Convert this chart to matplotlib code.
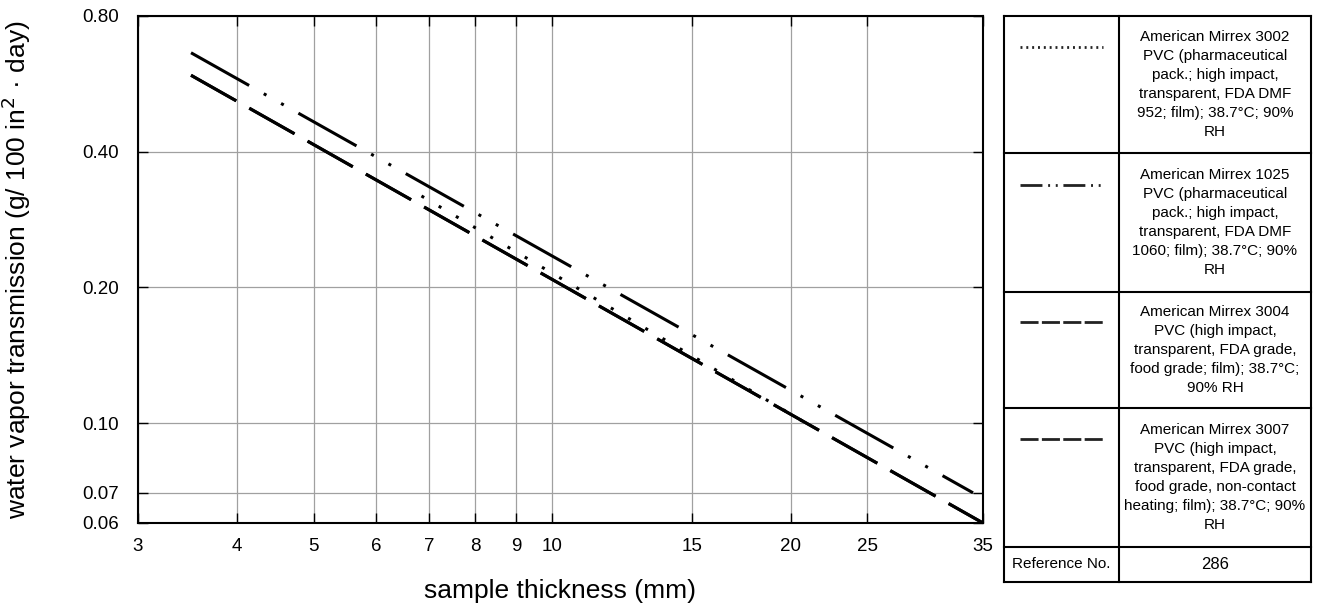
import matplotlib
matplotlib.use("Agg")
import matplotlib.pyplot as plt
from matplotlib.ticker import FixedLocator, FixedFormatter, NullLocator

plt.rcParams['font.family'] = ['Liberation Sans', 'DejaVu Sans']
plt.rcParams['lines.scale_dashes'] = False

# series (thickness in mm, WVT in g/100 in^2 day)
x_3002 = [6.84, 20.7]
y_3002 = [0.319, 0.101]
x_1025 = [3.5, 34.0]
y_1025 = [0.663, 0.070]
x_3004 = [3.5, 35.0]
y_3004 = [0.591, 0.060]
x_3007 = [3.5, 35.0]
y_3007 = [0.591, 0.060]

x_ticks = [3, 4, 5, 6, 7, 8, 9, 10, 15, 20, 25, 35]
x_ticklabels = ['3', '4', '5', '6', '7', '8', '9', '10', '15', '20', '25', '35']
y_ticks = [0.06, 0.07, 0.10, 0.20, 0.40, 0.80]
y_ticklabels = ['0.06', '0.07', '0.10', '0.20', '0.40', '0.80']

legend_texts = [
    'American Mirrex 3002\nPVC (pharmaceutical\npack.; high impact,\ntransparent, FDA DMF\n952; film); 38.7°C; 90%\nRH',
    'American Mirrex 1025\nPVC (pharmaceutical\npack.; high impact,\ntransparent, FDA DMF\n1060; film); 38.7°C; 90%\nRH',
    'American Mirrex 3004\nPVC (high impact,\ntransparent, FDA grade,\nfood grade; film); 38.7°C;\n90% RH',
    'American Mirrex 3007\nPVC (high impact,\ntransparent, FDA grade,\nfood grade, non-contact\nheating; film); 38.7°C; 90%\nRH',
]
ref_no = '286'

# dash patterns in points
dash_dotted = (0, (2.2, 12.2))
dash_dashdotdot = (0, (48, 12.1, 2.2, 12.1, 2.2, 12.1))
dash_long = (0, (37.4, 10.8))

W, H = 1320, 607
fig = plt.figure(figsize=(W / 100, H / 100), dpi=100)

ax = fig.add_axes([138 / W, (H - 523) / H, 845 / W, 507 / H])
ax.set_xscale('log')
ax.set_yscale('log')
ax.set_xlim(3, 35)
ax.set_ylim(0.06, 0.80)

lw = 2.2
ax.plot(x_3004, y_3004, color='black', lw=lw, linestyle=dash_long)
ax.plot(x_3007, y_3007, color='black', lw=lw, linestyle=dash_long)
ax.plot(x_3002, y_3002, color='black', lw=lw, linestyle=dash_dotted)
ax.plot(x_1025, y_1025, color='black', lw=lw, linestyle=dash_dashdotdot)

ax.xaxis.set_major_locator(FixedLocator(x_ticks))
ax.xaxis.set_major_formatter(FixedFormatter(x_ticklabels))
ax.xaxis.set_minor_locator(NullLocator())
ax.yaxis.set_major_locator(FixedLocator(y_ticks))
ax.yaxis.set_major_formatter(FixedFormatter(y_ticklabels))
ax.yaxis.set_minor_locator(NullLocator())

ax.grid(True, color='#a0a0a0', lw=0.9)
ax.set_axisbelow(True)
ax.tick_params(which='major', direction='in', length=7, width=1,
               top=True, right=True, labelsize=13.5, color='black')
ax.tick_params(axis='x', pad=11)
ax.tick_params(axis='y', pad=14)
for s in ax.spines.values():
    s.set_linewidth(1.5)

ax.set_xlabel('sample thickness (mm)', fontsize=19)
ax.xaxis.set_label_coords(0.5, -0.11)
ax.set_ylabel('water vapor transmission (g/ 100 in$^2$ · day)', fontsize=19)
ax.yaxis.set_label_coords(-0.124, 0.5)

# legend table drawn in its own pixel-like coordinate system
tx0, tx1, ty0, ty1 = 1004, 1311, 16, 582
tab = fig.add_axes([tx0 / W, (H - ty1) / H, (tx1 - tx0) / W, (ty1 - ty0) / H])
tab.set_xlim(0, tx1 - tx0)
tab.set_ylim(ty1 - ty0, 0)
tab.axis('off')

rows = [0, 137, 276, 392, 531, 566]
col = 115
right = tx1 - tx0
blw = 1.5
for r in rows:
    tab.plot([0, right], [r, r], color='black', lw=blw, solid_capstyle='projecting', clip_on=False)
tab.plot([0, 0], [0, rows[-1]], color='black', lw=blw, clip_on=False)
tab.plot([right, right], [0, rows[-1]], color='black', lw=blw, clip_on=False)
tab.plot([col, col], [0, rows[-1]], color='black', lw=blw, clip_on=False)

sample_y = [31, 169, 306, 423]
sample_styles = [
    (0, (1.4, 2.8)),
    (0, (15.8, 4.1, 1.4, 4.1, 1.4, 4.1)),
    (0, (13, 2.4)),
    (0, (13, 2.4)),
]
for i in range(4):
    tab.plot([16, 99], [sample_y[i], sample_y[i]], color='#222222', lw=2,
             linestyle=sample_styles[i])
    tab.text((col + right) / 2, (rows[i] + rows[i + 1]) / 2, legend_texts[i],
             ha='center', va='center', fontsize=11, linespacing=1.45)

tab.text(col / 2, (rows[4] + rows[5]) / 2, 'Reference No.', ha='center', va='center', fontsize=11)
tab.text((col + right) / 2, (rows[4] + rows[5]) / 2, ref_no, ha='center', va='center', fontsize=12)

fig.savefig('out.png', dpi=100)
